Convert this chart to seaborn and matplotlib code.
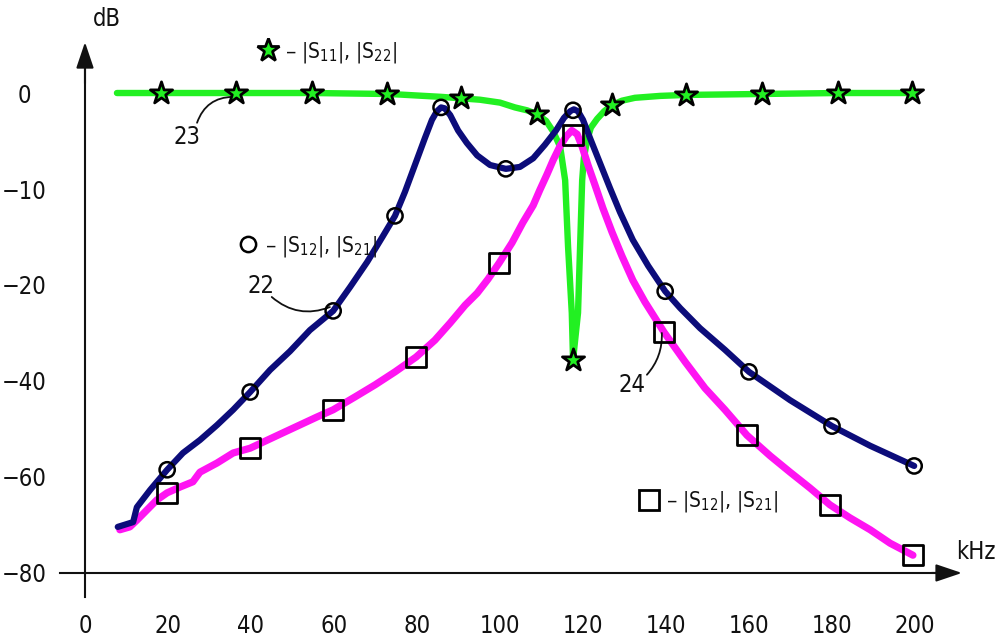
import numpy as np
import pandas as pd
import matplotlib
matplotlib.use("Agg")
import matplotlib.pyplot as plt
from matplotlib.lines import Line2D
import seaborn as sns

# frequency in kHz, level in dB
s12_f = [7.9, 11.6, 12.5, 15.7, 19.8, 23.6, 27.7, 31.8, 35.7, 39.8, 44.6, 49.4,
         54.2, 59.8, 63.9, 68.0, 71.8, 74.7, 77.1, 79.5, 81.9, 83.6, 84.8, 85.8,
         86.7, 88.0, 89.9, 92.0, 94.5, 97.6, 101.4, 104.8, 108.0, 110.8, 113.5,
         115.4, 116.9, 117.8, 118.8, 120.0, 121.7, 124.1, 126.5, 128.9, 132.0,
         135.7, 139.8, 143.4, 148.2, 154.2, 160.0, 169.9, 180.0, 189.2, 199.8]
s12_db = [-70.4, -69.4, -66.3, -62.7, -58.5, -55.0, -52.3, -49.2, -46.0, -42.3,
          -37.7, -33.8, -29.4, -25.4, -20.4, -17.6, -14.9, -12.8, -10.3, -7.5,
          -4.7, -2.8, -1.9, -1.5, -1.6, -2.3, -3.9, -5.2, -6.5, -7.5, -7.9, -7.7,
          -6.8, -5.4, -3.9, -2.6, -1.9, -1.7, -1.9, -2.8, -4.7, -7.3, -9.9, -12.4,
          -15.3, -18.0, -21.3, -24.8, -29.0, -33.5, -38.1, -44.0, -49.4, -53.5,
          -57.7]
s12_mark_f = [19.8, 39.8, 59.8, 74.7, 85.8, 101.4, 117.6, 139.8, 160.0, 180.0, 199.8]
s12_mark_db = [-58.5, -42.3, -25.4, -12.8, -1.5, -7.9, -1.8, -21.3, -38.1, -49.4, -57.7]

s21_f = [8.4, 10.8, 12.5, 14.9, 17.3, 19.8, 22.9, 26.0, 27.7, 31.8, 35.7, 39.8,
         47.7, 55.9, 59.8, 65.1, 69.9, 74.7, 79.8, 84.3, 88.0, 91.6, 94.5, 97.1,
         99.8, 102.9, 105.5, 108.0, 109.6, 111.3, 112.8, 114.5, 116.0, 117.3,
         118.6, 119.8, 121.2, 122.9, 124.8, 127.0, 129.4, 132.0, 134.9, 139.5,
         144.6, 149.4, 154.2, 159.5, 165.1, 169.9, 174.7, 179.5, 184.3, 189.2,
         194.0, 199.5]
s21_db = [-71.0, -70.4, -69.0, -66.9, -64.8, -63.3, -62.1, -61.0, -59.0, -57.1,
          -55.0, -54.0, -50.8, -47.5, -46.0, -43.3, -40.8, -38.1, -35.0, -31.5,
          -27.9, -24.2, -21.7, -19.4, -17.7, -15.6, -13.5, -11.7, -10.1, -8.5,
          -7.0, -5.5, -4.5, -3.9, -4.3, -5.6, -7.5, -9.6, -12.0, -14.5, -17.0,
          -19.5, -23.5, -29.8, -36.0, -41.5, -46.0, -51.3, -55.6, -59.0, -62.3,
          -65.8, -68.5, -71.0, -73.8, -76.3]
s21_mark_f = [19.8, 39.8, 59.8, 79.8, 99.8, 117.6, 139.5, 159.5, 179.5, 199.5]
s21_mark_db = [-63.3, -54.0, -46.0, -35.0, -17.7, -4.4, -29.8, -51.3, -65.8, -76.3]

s11_f = [7.7, 18.3, 36.4, 54.7, 72.8, 75.9, 85.8, 95.2, 100.0, 103.6, 106.5,
         108.9, 111.1, 112.8, 114.5, 115.7, 116.4, 117.3, 117.6, 118.8, 119.3,
         119.8, 120.2, 121.0, 121.9, 123.4, 125.1, 127.0, 129.4, 132.5, 138.6,
         144.8, 163.1, 181.4, 199.3]
s11_db = [0.0, 0.0, 0.0, 0.0, -0.1, -0.16, -0.4, -0.7, -1.0, -1.5, -1.8, -2.2,
          -2.9, -4.0, -5.6, -9.1, -16.0, -25.8, -35.6, -25.8, -16.0, -9.1, -6.8,
          -4.9, -3.6, -2.7, -1.9, -1.25, -0.8, -0.5, -0.3, -0.2, -0.1, 0.0, 0.0]
s11_mark_f = [18.3, 36.4, 54.7, 72.8, 90.6, 108.9, 117.6, 127.0, 144.8, 163.1, 181.4, 199.3]
s11_mark_db = [0.0, 0.0, 0.0, -0.1, -0.5, -2.2, -35.6, -1.25, -0.2, -0.1, 0.0, 0.0]

x_ticks = [0, 20, 40, 60, 80, 100, 120, 140, 160, 180, 200]
y_ticks = [0, -10, -20, -40, -60, -80]
y_tick_labels = ["0", "−10", "−20", "−40", "−60", "−80"]

GREEN = "#22f022"
NAVY = "#0c0c7a"
MAGENTA = "#ff14f2"

sns.set_style("white")
plt.rcParams["font.family"] = ["DejaVu Sans"]
plt.rcParams["font.stretch"] = "condensed"
plt.rcParams["mathtext.fontset"] = "dejavusans"
plt.rcParams["mathtext.default"] = "rm"
plt.rcParams["text.color"] = "#111111"


# the dB axis is stretched in the original: 10 dB steps to -20, then 20 dB steps
def fwd(d):
    d = np.asarray(d, dtype=float)
    return np.where(d >= -20, d / 10.0, -2.0 + (d + 20.0) / 20.0)


def inv(p):
    p = np.asarray(p, dtype=float)
    return np.where(p >= -2, p * 10.0, -20.0 + (p + 2.0) * 20.0)


fig = plt.figure(figsize=(9.98, 6.44), dpi=100)
ax = fig.add_axes([0, 0, 1, 1])
ax.set_yscale("function", functions=(fwd, inv))

df11 = pd.DataFrame({"f": s11_f, "db": s11_db})
df12 = pd.DataFrame({"f": s12_f, "db": s12_db})
df21 = pd.DataFrame({"f": s21_f, "db": s21_db})

line_kw = dict(solid_capstyle="round", solid_joinstyle="round", sort=False)
sns.lineplot(data=df11, x="f", y="db", color=GREEN, lw=4.6, ax=ax, zorder=2, **line_kw)
sns.lineplot(data=df21, x="f", y="db", color=MAGENTA, lw=5.2, ax=ax, zorder=3, **line_kw)
sns.lineplot(data=df12, x="f", y="db", color=NAVY, lw=4.5, ax=ax, zorder=4, **line_kw)

sns.scatterplot(x=s11_mark_f, y=s11_mark_db, marker="*", s=280, color=GREEN,
                edgecolor="black", linewidth=2.0, ax=ax, zorder=6)
sns.scatterplot(x=s12_mark_f, y=s12_mark_db, marker="o", s=120, color="none",
                edgecolor="black", linewidth=1.8, ax=ax, zorder=6)
sns.scatterplot(x=s21_mark_f, y=s21_mark_db, marker="s", s=200, color="none",
                edgecolor="black", linewidth=2.0, ax=ax, zorder=6)

ax.set_xlim(-20.48, 220.0)
ax.set_ylim(-94.8, 9.69)
ax.set_xlabel("")
ax.set_ylabel("")

# axes drawn through the origin, with arrows
for side in ["top", "right"]:
    ax.spines[side].set_visible(False)
ax.spines["left"].set_position(("data", 0))
ax.spines["bottom"].set_position(("data", -80))
ax.spines["left"].set_bounds(-85, 3)
ax.spines["bottom"].set_bounds(-6.0, 206)
for side in ["left", "bottom"]:
    ax.spines[side].set_linewidth(1.5)
    ax.spines[side].set_color("#111111")
arrow = dict(arrowstyle="-|>,head_length=0.8,head_width=0.27", mutation_scale=20,
             color="#111111", lw=1.5, shrinkA=0, shrinkB=0)
ax.annotate("", xy=(0, 5.3), xytext=(0, 1.0), arrowprops=arrow)
ax.annotate("", xy=(211.3, -80), xytext=(204, -80), arrowprops=arrow)

ax.set_xticks(x_ticks)
ax.set_xticklabels([str(v) for v in x_ticks])
ax.set_yticks(y_ticks)
ax.set_yticklabels(y_tick_labels)
ax.minorticks_off()
ax.tick_params(axis="x", direction="inout", length=21, width=2, pad=19,
               labelsize=17, colors="#111111")
ax.tick_params(axis="y", direction="inout", length=20, width=1.4, pad=34,
               labelsize=17, colors="#111111")
for lab in ax.get_yticklabels():
    lab.set_horizontalalignment("center")

ax.text(5.3, 7.7, "dB", fontsize=17, ha="center", va="center")
ax.text(214.7, -75.6, "kHz", fontsize=17, ha="center", va="center")

# curve numbers with leader lines
lead = dict(arrowstyle="-", lw=1.3, color="#111111", shrinkA=0, shrinkB=0)
ax.text(24.6, -4.6, "23", fontsize=17, ha="center", va="center")
ax.annotate("", xy=(35.7, -0.4), xytext=(27.0, -3.1),
            arrowprops=dict(connectionstyle="arc3,rad=-0.35", **lead))
ax.text(42.4, -20.2, "22", fontsize=17, ha="center", va="center")
ax.annotate("", xy=(59.0, -24.6), xytext=(45.0, -22.5),
            arrowprops=dict(connectionstyle="arc3,rad=0.3", **lead))
ax.text(131.8, -40.8, "24", fontsize=17, ha="center", va="center")
ax.annotate("", xy=(139.0, -30.0), xytext=(135.4, -38.7),
            arrowprops=dict(connectionstyle="arc3,rad=0.2", **lead))

# marker keys
legend_kw = dict(frameon=False, loc="center left", borderpad=0, borderaxespad=0,
                 handlelength=1.0, handletextpad=0.3, fontsize=15)
h11 = Line2D([], [], ls="none", marker="*", ms=17, mfc=GREEN, mec="black", mew=2.0)
h12 = Line2D([], [], ls="none", marker="o", ms=11, mfc="none", mec="black", mew=1.8)
h21 = Line2D([], [], ls="none", marker="s", ms=14, mfc="none", mec="black", mew=2.0)
fig.legend([h11], ["– |S$_{11}$|, |S$_{22}$|"],
           bbox_to_anchor=(0.258, 0.919), **legend_kw)
fig.legend([h12], ["– |S$_{12}$|, |S$_{21}$|"],
           bbox_to_anchor=(0.238, 0.618), **legend_kw)
fig.legend([h21], ["– |S$_{12}$|, |S$_{21}$|"],
           bbox_to_anchor=(0.640, 0.2205), **legend_kw)

fig.savefig("out.png", dpi=100, facecolor="white")
